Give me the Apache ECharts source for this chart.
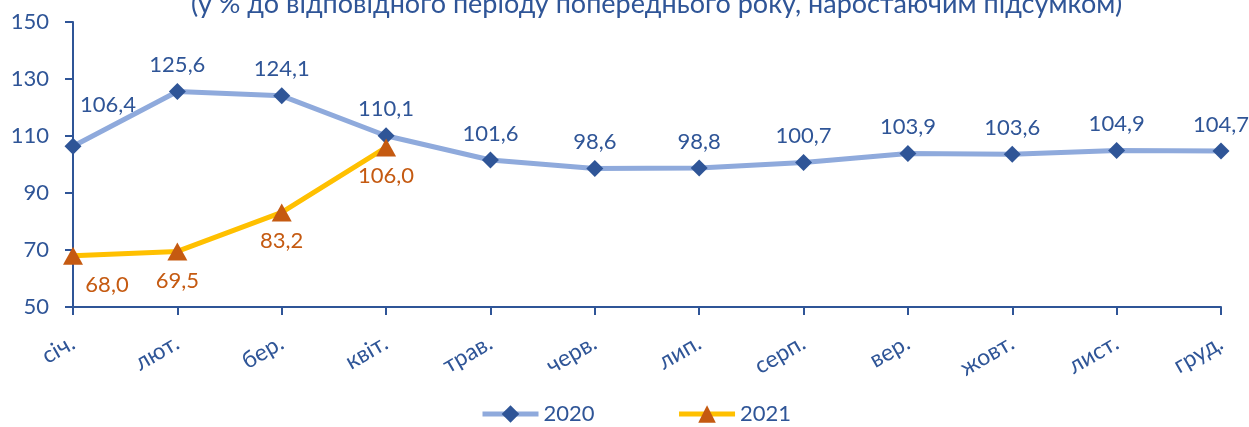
<!doctype html>
<html>
    <head>
        <meta charset="utf-8">
        <style>
            html, body { margin: 0; padding: 0; background: #fff; }
            #main { width: 1249px; height: 427px; }
        </style>
    </head>
    <body>
        <div id="main"></div>
        <script src="https://cdn.jsdelivr.net/npm/echarts@6/dist/echarts.min.js"></script>
        <script>
            var months = ['січ.', 'лют.', 'бер.', 'квіт.', 'трав.', 'черв.', 'лип.', 'серп.', 'вер.', 'жовт.', 'лист.', 'груд.'];
            var values2020 = [106.4, 125.6, 124.1, 110.1, 101.6, 98.6, 98.8, 100.7, 103.9, 103.6, 104.9, 104.7];
            var values2021 = [68.0, 69.5, 83.2, 106.0];

            var blue = '#2f5597';
            var font = 'Lato';

            function fmt(p) {
                return p.value.toFixed(1).replace('.', ',');
            }

            var chart = echarts.init(document.getElementById('main'));

            chart.setOption({
                textStyle: { fontFamily: font },
                title: {
                    text: '(у % до відповідного періоду попереднього року, наростаючим підсумком)',
                    left: 186,
                    top: -14,
                    textStyle: { fontSize: 27, fontWeight: 'normal', color: blue, fontFamily: font }
                },
                grid: { left: 73, right: 28, top: 22, bottom: 120 },
                legend: {
                    top: 403,
                    left: 480,
                    padding: 0,
                    itemWidth: 56,
                    itemHeight: 22,
                    itemGap: 82,
                    lineStyle: { width: 5 },
                    textStyle: { fontSize: 22, color: blue, fontFamily: font },
                    data: ['2020', '2021']
                },
                xAxis: {
                    type: 'category',
                    data: months,
                    boundaryGap: false,
                    axisLine: { lineStyle: { color: blue, width: 2 } },
                    axisTick: { show: true, length: 8, lineStyle: { color: blue, width: 2 } },
                    axisLabel: { rotate: 30, fontSize: 23, color: blue, margin: 34, interval: 0 }
                },
                yAxis: {
                    type: 'value',
                    min: 50,
                    max: 150,
                    interval: 20,
                    splitLine: { show: false },
                    axisLine: { show: true, lineStyle: { color: blue, width: 2 } },
                    axisTick: { show: true, length: 8, lineStyle: { color: blue, width: 2 } },
                    axisLabel: { fontSize: 22, color: blue, margin: 24 }
                },
                series: [{
                    name: '2020',
                    type: 'line',
                    data: values2020.map(function (v, i) {
                        var d = { value: v };
                        if (i === 0) d.label = { offset: [35, -15] };
                        return d;
                    }),
                    symbol: 'diamond',
                    symbolSize: 17,
                    lineStyle: { color: '#8faadc', width: 5 },
                    itemStyle: { color: blue },
                    label: {
                        show: true,
                        position: 'top',
                        distance: 7,
                        fontSize: 22,
                        color: blue,
                        formatter: fmt
                    },
                    z: 2
                }, {
                    name: '2021',
                    type: 'line',
                    data: values2021.map(function (v, i) {
                        var d = { value: v };
                        if (i === 0) d.label = { offset: [34, 0] };
                        return d;
                    }),
                    symbol: 'triangle',
                    symbolSize: [20, 18],
                    lineStyle: { color: '#ffc000', width: 5 },
                    itemStyle: { color: '#c55a11' },
                    label: {
                        show: true,
                        position: 'bottom',
                        distance: 9,
                        fontSize: 22,
                        color: '#c55a11',
                        formatter: fmt
                    },
                    z: 3
                }]
            });

            window.onresize = chart.resize;
        </script>
    </body>
</html>
